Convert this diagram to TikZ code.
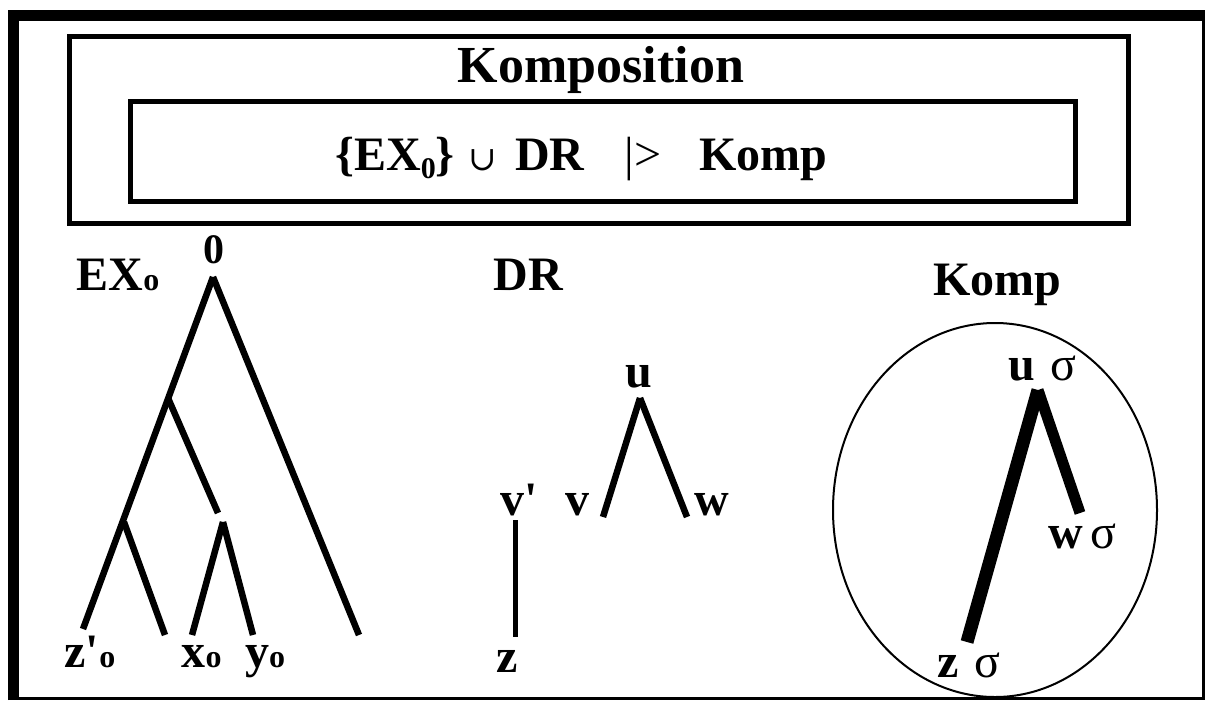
\documentclass[tikz,border=0pt]{standalone}
\usepackage{fontspec}
\setmainfont{Liberation Serif}
\newfontfamily\symfont{DejaVu Serif}
\usepackage{tikz}
\usetikzlibrary{shapes.geometric,positioning}

\newcommand{\gross}{\fontsize{48}{52}\selectfont\bfseries}
\newcommand{\klein}{\fontsize{32}{34}\selectfont}

\begin{document}
\begin{tikzpicture}[x=1pt,y=-1pt,
    lbl/.style={anchor=base,inner sep=0pt,font=\gross},
    ast/.style={line width=6.5pt},
    box/.style={draw,line width=5pt,inner sep=0pt}]
\useasboundingbox (0,0) rectangle (1206,702);

% Rahmen
\draw[line width=11pt] (13.5,700) -- (13.5,15.5) -- (1205,15.5);
\draw[line width=3pt] (1203.5,15.5) -- (1203.5,698.5) -- (13.5,698.5);

% Kopf
\node[box,minimum width=1059pt,minimum height=187pt] (rahmen) at (599,130) {};
\node[anchor=base,inner sep=0pt,font=\fontsize{52}{56}\selectfont\bfseries] (titel) at (601,82) {Komposition};
\node[box,minimum width=945pt,minimum height=100pt] (formelbox) at (603,151.5) {};
\node[anchor=base west,inner sep=0pt,font=\gross] (formel) at (335,170)
  {\{EX\raisebox{-8pt}{\fontsize{30}{30}\selectfont 0}\}\hspace{14pt}{\mdseries\symfont\fontsize{34}{34}\selectfont ∪}\hspace{18pt}DR\hspace{40pt}{\mdseries|>}\hspace{38pt}Komp};

% EX_o
\node[lbl] (ex-lbl) at (118,290) {EX{\klein o}};
\node[lbl,font=\fontsize{42}{44}\selectfont\bfseries] (o-lbl) at (214,263) {0};
\coordinate (ex-o) at (213,277);
\coordinate (ex-a) at (168,398);
\coordinate (ex-ae) at (218,513);
\coordinate (ex-b) at (124,522);
\coordinate (ex-c) at (223,522);
\coordinate (ex-z) at (83,629);
\coordinate (ex-be) at (165,635);
\coordinate (ex-x) at (192,635);
\coordinate (ex-y) at (253,635);
\coordinate (ex-r) at (359,635);
\draw[ast] (ex-o) -- (ex-z);
\draw[ast] (ex-o) -- (ex-r);
\draw[ast] (ex-a) -- (ex-ae);
\draw[ast] (ex-b) -- (ex-be);
\draw[ast] (ex-c) -- (ex-x);
\draw[ast] (ex-c) -- (ex-y);
\node[lbl] (zo-lbl) at (90,667) {z\textquotesingle{\klein o}};
\node[lbl] (xo-lbl) at (201.5,667) {x{\klein o}};
\node[lbl] (yo-lbl) at (265,667) {y{\klein o}};

% DR
\node[lbl] (dr-lbl) at (528.5,290) {DR};
\node[lbl] (u-lbl) at (638.5,387) {u};
\node[lbl] (vs-lbl) at (519,515) {v\textquotesingle};
\node[lbl] (v-lbl) at (577.5,515) {v};
\node[lbl] (w-lbl) at (711.5,515) {w};
\node[lbl] (z-lbl) at (507,672) {z};
\coordinate (dr-u) at (640,398);
\coordinate (dr-v) at (603,517);
\coordinate (dr-w) at (687,517);
\coordinate (dr-vs) at (515,520);
\coordinate (dr-z) at (515,637);
\draw[ast] (dr-u) -- (dr-v);
\draw[ast] (dr-u) -- (dr-w);
\draw[line width=5pt] (dr-vs) -- (dr-z);

% Komp
\node[lbl] (komp-lbl) at (997.5,295) {Komp};
\node[draw,ellipse,line width=2pt,inner sep=0pt,minimum width=324pt,minimum height=374pt] (komp-kreis) at (995,510) {};
\coordinate (k-u) at (1038,390);
\coordinate (k-z) at (967,642);
\coordinate (k-w) at (1080,513);
\draw[line width=13pt] (k-u) -- (k-z);
\draw[line width=11pt] (k-u) -- (k-w);
\node[lbl,anchor=base west] (ku-lbl) at (1008,380) {u\hspace{16pt}{\mdseries σ}};
\node[lbl,anchor=base west] (kw-lbl) at (1048,548) {w\hspace{8pt}{\mdseries σ}};
\node[lbl,anchor=base west] (kz-lbl) at (937,677) {z\hspace{16pt}{\mdseries σ}};
\end{tikzpicture}
\end{document}
